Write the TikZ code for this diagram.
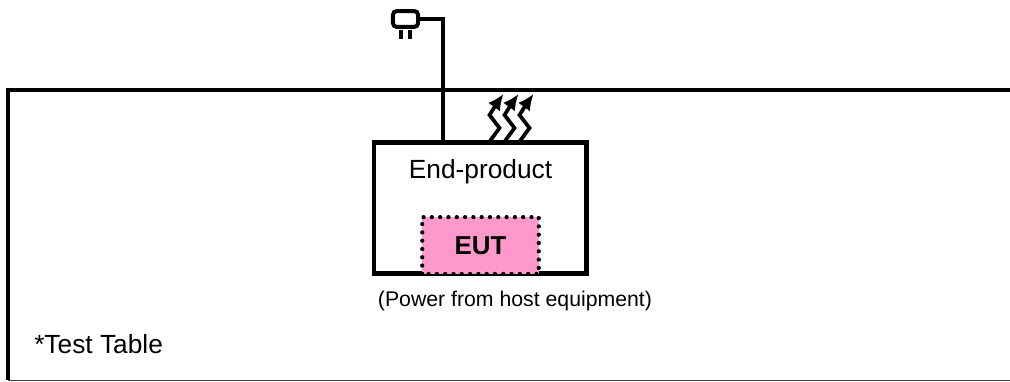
\documentclass[tikz,border=0pt]{standalone}
\usepackage{fontspec}
\setmainfont{Liberation Sans}
\usetikzlibrary{arrows.meta}
\definecolor{eutpink}{RGB}{255,153,204}

\tikzset{
	heavy/.style={line width=3pt},
	boxed/.style={draw,line width=3.4pt,outer sep=0pt,inner sep=0pt},
	label/.style={inner sep=0pt,font=\fontsize{19.8}{24}\selectfont},
	note/.style={inner sep=0pt,font=\fontsize{16}{19}\selectfont},
	heat/.style={line width=2.8pt,miter limit=10,-{Latex[length=12pt,width=11pt]}}
}

\begin{document}
\begin{tikzpicture}[scale=0.2646]
		\useasboundingbox (0,0) rectangle (101,38.1);

		% test table
		\coordinate (tabletopright) at (101,29.1);
		\coordinate (tabletopleft) at (0.8,29.1);
		\coordinate (tablebottomleft) at (0.8,0.1);
		\coordinate (tablebottomright) at (101,0.1);
		\draw [heavy] (tabletopright) -- (tabletopleft) -- (tablebottomleft);
		\draw [line width=0.7pt,black!75] (tablebottomleft) -- (tablebottomright);
		\node [label,anchor=west] (tablelabel) at (3.4,3.7) {*Test Table};

		% end product
		\node [boxed,minimum width=160pt,minimum height=99pt] (product) at (48.02,17.3) {};
		\node [label] (productlabel) at (48.05,20.9) {End-product};
		\node [note] (powernote) at (51.5,8) {(Power from host equipment)};

		% eut
		\node [fill=eutpink,minimum width=87.75pt,minimum height=42.75pt,outer sep=0pt,inner sep=0pt,font=\fontsize{19.5}{23}\selectfont\bfseries] (eut) at (48.05,13.55) {EUT};
		\draw [line width=3.2pt,line cap=round,dash pattern=on 0pt off 6.25pt] (eut.south west) rectangle (eut.north east);

		% plug and cord
		\node [draw,line width=3pt,rounded corners=3pt,minimum width=19pt,minimum height=12pt,inner sep=0pt,outer sep=0pt] (plug) at (40.55,36.2) {};
		\coordinate (cordend) at (44.3,23.9);
		\draw [heavy] (plug.east) -| (cordend);
		\coordinate (pronga) at (40.1,35.1);
		\coordinate (prongb) at (41,35.1);
		\draw [line width=2.4pt] (pronga) -- +(0,-0.9);
		\draw [line width=2.4pt] (prongb) -- +(0,-0.9);

		% heat
		\foreach \dx in {0,1.5,3} {
			\draw [heat] (49+\dx,24) -- (49.95+\dx,25.3) -- (48.95+\dx,26.6) -- (49.7+\dx,27.8) -- (50.35+\dx,28.7);
		}

  \end{tikzpicture}
\end{document}
